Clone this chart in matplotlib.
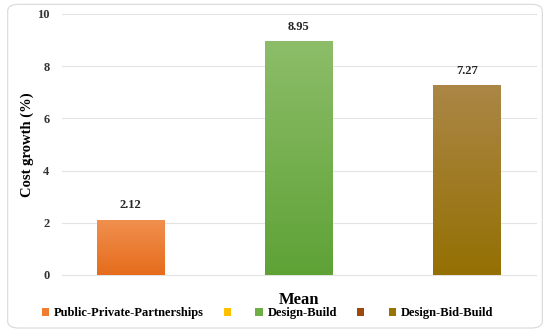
"""
Mean cost growth by delivery method, bar chart with gradient fills.
"""

import numpy as np
import matplotlib
matplotlib.use("Agg")
import matplotlib.pyplot as plt
from matplotlib.colors import LinearSegmentedColormap
from matplotlib.patches import FancyBboxPatch, Patch

plt.rcParams['font.family'] = ['Liberation Serif', 'DejaVu Serif']
plt.rcParams['font.weight'] = 'bold'

# One category ("Mean") with five series; two series are blank in the source.
SERIES = ["Public-Private-Partnerships", "", "Design-Build", "", "Design-Bid-Build"]
VALUES = [2.12, 0.0, 8.95, 0.0, 7.27]
LEGEND_COLORS = ["#ED7D31", "#FFC000", "#70AD47", "#9E480E", "#997300"]
# (top, bottom) colours of the gradient fills
GRADIENTS = [("#F1904F", "#E56C1B"), ("#FFD04F", "#F0B400"), ("#8DBD69", "#5EA236"),
             ("#B5653A", "#8E3E0A"), ("#AB8646", "#947003")]
YTICKS = [0, 2, 4, 6, 8, 10]

BAR_WIDTH = 0.8


def gradient_bar(ax, x, h, top, bottom):
    bar = ax.bar(x, h, width=BAR_WIDTH, color='none', edgecolor='none')[0]
    if h <= 0:
        return
    cmap = LinearSegmentedColormap.from_list("g", [bottom, top])
    grad = np.linspace(0, 1, 256).reshape(-1, 1)
    im = ax.imshow(grad, cmap=cmap, origin='lower', aspect='auto',
                   extent=(x - BAR_WIDTH / 2, x + BAR_WIDTH / 2, 0, h), zorder=2)
    im.set_clip_path(bar)
    ax.text(x, h + 0.32, f"{h:.2f}", ha='center', va='bottom', fontsize=9,
            fontweight='bold', color='#262626')


def main():
    fig = plt.figure(figsize=(5.5, 3.32), dpi=100)
    fig.patches.append(FancyBboxPatch((0.014, 0.012), 0.972, 0.975,
                                      boxstyle="round,pad=0,rounding_size=0.02",
                                      transform=fig.transFigure, facecolor='white',
                                      edgecolor='#D9D9D9', linewidth=0.8, zorder=-1))
    ax = fig.add_axes([0.1127, 0.1717, 0.862, 0.7863])
    ax.set_facecolor('none')

    for i, v in enumerate(VALUES):
        gradient_bar(ax, i, v, *GRADIENTS[i])

    ax.set_xlim(2 - 2.815, 2 + 2.825)
    ax.set_ylim(0, 10)
    ax.set_yticks(YTICKS)
    ax.set_xticks([])
    for y in YTICKS:
        ax.axhline(y, color='#E3E3E3', linewidth=0.8, zorder=0, clip_on=False)
    for s in ax.spines.values():
        s.set_visible(False)
    ax.tick_params(axis='y', length=0, labelsize=9, pad=9, labelcolor='#333333')
    for lab in ax.get_yticklabels():
        lab.set_fontweight('bold')

    ax.set_ylabel("Cost growth (%)", fontsize=10.5, fontweight='bold', labelpad=2)
    ax.set_xlabel("Mean", fontsize=12, fontweight='bold', labelpad=12)

    handles = [Patch(facecolor=c, edgecolor='none') for c in LEGEND_COLORS]
    fig.legend(handles, SERIES, loc='center', bbox_to_anchor=(0.486, 0.057), ncol=5,
               frameon=False, handlelength=0.6, handleheight=0.6,
               handletextpad=0.35, columnspacing=1.6, prop={'weight': 'bold', 'size': 9})

    fig.savefig("out.png", dpi=100)


if __name__ == "__main__":
    main()
